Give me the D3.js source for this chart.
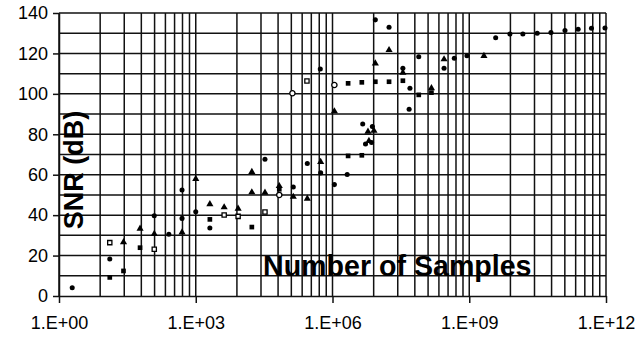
<!DOCTYPE html>
<html>
<head>
<meta charset="utf-8">
<script src="https://cdn.jsdelivr.net/npm/d3@7"></script>
<style>
  body { margin: 0; background: #fff; }
  svg { display: block; font-family: "Liberation Sans", Arial, sans-serif; }
  .grid line { stroke: #111; stroke-width: 1.5; }
  .axis text { font-size: 18px; fill: #000; }
  .axis line { stroke: #111; stroke-width: 1.5; }
  .title { font-weight: bold; fill: #000; }
</style>
</head>
<body>
<div id="chart"></div>
<script>
// [samples, SNR dB]
const dots = [
  [1.95, 4.1], [13, 18.3], [123, 39.7], [257, 30.5], [500, 52.4], [500, 38.4],
  [1000, 41.7], [2040, 33.6], [33000, 67.6], [138000, 53.9], [280000, 65.5],
  [550000, 60.9], [1.1e6, 55.1], [2.1e6, 60.1], [4.6e6, 85.1], [5.3e6, 75.2],
  [7.5e6, 83.8], [7.2e6, 75.9], [8.7e6, 136.6], [1.74e7, 133.0], [3.5e7, 112.7],
  [5.0e7, 102.8], [4.8e7, 92.4], [7.8e7, 118.4], [2.8e8, 112.7], [4.7e8, 117.6],
  [8.9e8, 118.9], [3.8e9, 127.8], [7.8e9, 129.6], [1.5e10, 129.6], [3.1e10, 130.0],
  [6.2e10, 130.3], [1.26e11, 131.3], [2.45e11, 132.0], [4.8e11, 132.5],
  [9.5e11, 132.6], [5.4e5, 112.3]
];
const triangles = [
  [26, 26.6], [60, 33.3], [123, 30.7], [500, 31.5], [1000, 57.9], [2040, 45.4],
  [4200, 43.9], [8500, 43.2], [17000, 61.4], [17000, 51.3], [33000, 51.1],
  [68000, 54.4], [138000, 49.1], [280000, 48.2], [550000, 66.3], [1.1e6, 91.4],
  [6.0e6, 81.3], [8.1e6, 81.8], [6.3e6, 76.7], [8.7e6, 115.1], [1.74e7, 121.7],
  [3.5e7, 110.5], [1.48e8, 102.8], [2.8e8, 117.1], [2.1e9, 118.8]
];
const squares = [
  [13, 9.2], [26, 12.4], [60, 23.9], [2040, 37.9], [17000, 34.1], [68000, 52.8],
  [2.2e6, 69.3], [4.4e6, 69.6], [2.2e6, 105.2], [4.4e6, 105.7], [8.7e6, 106.0],
  [1.74e7, 106.0], [3.5e7, 106.5], [7.8e7, 99.5], [1.48e8, 100.6]
];
const openSquares = [
  [13, 26.4], [123, 23.1], [4200, 40.1], [8500, 39.4], [33000, 41.6], [275000, 106.4]
];
const openCircles = [
  [68000, 50.0], [132000, 100.3], [1.1e6, 104.4]
];

const xTicks = [1, 1e3, 1e6, 1e9, 1e12];
const xTickLabels = ["1.E+00", "1.E+03", "1.E+06", "1.E+09", "1.E+12"];
const yTicks = [0, 20, 40, 60, 80, 100, 120, 140];
const yTitle = "SNR (dB)";
const xTitle = "Number of Samples";

const width = 636, height = 339;
const plotLeft = 59, plotRight = 606, plotTop = 13, plotBottom = 296;

const svg = d3.select("#chart").append("svg")
  .attr("width", width)
  .attr("height", height);

const x = d3.scaleLog().domain([1, 1e12]).range([plotLeft, plotRight]);
const y = d3.scaleLinear().domain([0, 140]).range([plotBottom, plotTop]);

// vertical grid: each 1000x step split like a log10 decade (k^3)
const xGrid = [];
xTicks.slice(0, -1).forEach(base => {
  for (let k = 1; k < 10; k++) xGrid.push(base * k * k * k);
});
xGrid.push(1e12);
const yGrid = d3.range(10, 141, 10);

const grid = svg.append("g").attr("class", "grid");
grid.selectAll(".v").data(xGrid).join("line")
  .attr("x1", d => x(d)).attr("x2", d => x(d))
  .attr("y1", plotTop).attr("y2", plotBottom);
grid.selectAll(".h").data(yGrid).join("line")
  .attr("x1", plotLeft).attr("x2", plotRight)
  .attr("y1", d => y(d)).attr("y2", d => y(d));

// axes
const xAxis = d3.axisBottom(x)
  .tickValues(xTicks)
  .tickFormat((d, i) => xTickLabels[i])
  .tickSize(7).tickSizeOuter(0).tickPadding(13);
const gx = svg.append("g").attr("class", "axis")
  .attr("transform", `translate(0,${plotBottom})`)
  .call(xAxis);
gx.select(".domain").attr("stroke", "#111").attr("stroke-width", 1.5);

const yAxis = d3.axisLeft(y)
  .tickValues(yTicks)
  .tickSize(6).tickSizeOuter(0).tickPadding(5);
const gy = svg.append("g").attr("class", "axis")
  .attr("transform", `translate(${plotLeft},0)`)
  .call(yAxis);
gy.select(".domain").attr("stroke", "#111").attr("stroke-width", 1.5);
svg.selectAll(".axis").attr("font-family", null).attr("font-size", null);

// titles, drawn inside the plot
svg.append("text")
  .attr("class", "title")
  .attr("transform", "translate(83,170) rotate(-90)")
  .attr("text-anchor", "middle")
  .attr("font-size", 27)
  .text(yTitle);
svg.append("text")
  .attr("class", "title")
  .attr("x", 263).attr("y", 276)
  .attr("font-size", 28.6)
  .text(xTitle);

// markers
function addPoints(data, type, size, fill, stroke) {
  svg.append("g").selectAll("path").data(data).join("path")
    .attr("transform", d => `translate(${x(d[0])},${y(d[1])})`)
    .attr("d", d3.symbol().type(type).size(size))
    .attr("fill", fill)
    .attr("stroke", stroke)
    .attr("stroke-width", 1.3);
}
addPoints(dots, d3.symbolCircle, 20, "#000", "none");
addPoints(triangles, d3.symbolTriangle, 22, "#000", "none");
addPoints(squares, d3.symbolSquare, 22, "#000", "none");
addPoints(openSquares, d3.symbolSquare, 18, "#fff", "#000");
addPoints(openCircles, d3.symbolCircle, 22, "#fff", "#000");
</script>
</body>
</html>
